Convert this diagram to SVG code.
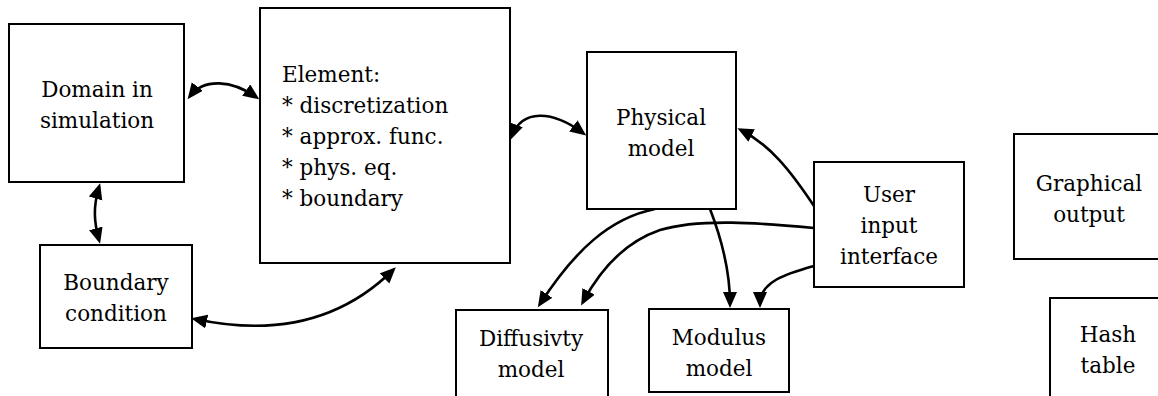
<svg xmlns="http://www.w3.org/2000/svg" width="1158" height="396" viewBox="0 0 1158 396">
  <style>
    .box { fill: #fff; stroke: #000; stroke-width: 2; }
    .lbl { font-family: "DejaVu Serif", "Liberation Serif", serif; font-size: 21.5px; fill: #000; }
    .mid { text-anchor: middle; }
    .wire { fill: none; stroke: #000; stroke-width: 2.6; marker-end: url(#head); }
    .both { marker-start: url(#head); }
  </style>
  <defs>
    <marker id="head" markerUnits="userSpaceOnUse" markerWidth="17" markerHeight="15" refX="12" refY="7" orient="auto-start-reverse">
      <path d="M0,0 L16,7 L0,14 Z" fill="#000"/>
    </marker>
  </defs>

  <!-- connectors -->
  <g id="connectors">
    <path class="wire both" d="M190,96 C204,78 232,80 256,97"/>
    <path class="wire both" d="M512,136 C522,109 552,110 583,133"/>
    <path class="wire both" d="M99,187 C93,207 94,222 99,240"/>
    <path class="wire both" d="M195,319 C232,327 320,342 393,270"/>
    <path class="wire" d="M655,209 C610,218 575,250 540,304"/>
    <path class="wire" d="M814,228 C760,223 700,218 660,230 C625,242 600,270 583,302"/>
    <path class="wire" d="M710,209 C722,240 730,270 730,304"/>
    <path class="wire" d="M814,266 C785,274 760,282 760,304"/>
    <path class="wire" d="M814,206 C790,170 770,145 741,130"/>
  </g>

  <g id="domain">
    <rect class="box" x="9" y="24" width="175" height="158"/>
    <text class="lbl mid" x="97" y="97">Domain in</text>
    <text class="lbl mid" x="97" y="128">simulation</text>
  </g>

  <g id="element">
    <rect class="box" x="260" y="8" width="250" height="255"/>
    <text class="lbl" x="282" y="82">Element:</text>
    <text class="lbl" x="282" y="113">* discretization</text>
    <text class="lbl" x="282" y="144">* approx. func.</text>
    <text class="lbl" x="282" y="175">* phys. eq.</text>
    <text class="lbl" x="282" y="206">* boundary</text>
  </g>

  <g id="boundary-condition">
    <rect class="box" x="40" y="245" width="152" height="103"/>
    <text class="lbl mid" x="116" y="290">Boundary</text>
    <text class="lbl mid" x="116" y="321">condition</text>
  </g>

  <g id="physical-model">
    <rect class="box" x="587" y="52" width="149" height="157"/>
    <text class="lbl mid" x="661" y="125">Physical</text>
    <text class="lbl mid" x="661" y="156">model</text>
  </g>

  <g id="user-input">
    <rect class="box" x="814" y="162" width="150" height="125"/>
    <text class="lbl mid" x="889" y="202">User</text>
    <text class="lbl mid" x="889" y="233">input</text>
    <text class="lbl mid" x="889" y="264">interface</text>
  </g>

  <g id="diffusivity-model">
    <rect class="box" x="456" y="310" width="152" height="100"/>
    <text class="lbl mid" x="531" y="346">Diffusivty</text>
    <text class="lbl mid" x="531" y="377">model</text>
  </g>

  <g id="modulus-model">
    <rect class="box" x="649" y="309" width="140" height="83"/>
    <text class="lbl mid" x="719" y="345">Modulus</text>
    <text class="lbl mid" x="719" y="376">model</text>
  </g>

  <g id="graphical-output">
    <rect class="box" x="1014" y="134" width="160" height="125"/>
    <text class="lbl mid" x="1089" y="191">Graphical</text>
    <text class="lbl mid" x="1089" y="222">output</text>
  </g>

  <g id="hash-table">
    <rect class="box" x="1050" y="298" width="130" height="110"/>
    <text class="lbl mid" x="1108" y="342">Hash</text>
    <text class="lbl mid" x="1108" y="373">table</text>
  </g>
</svg>
